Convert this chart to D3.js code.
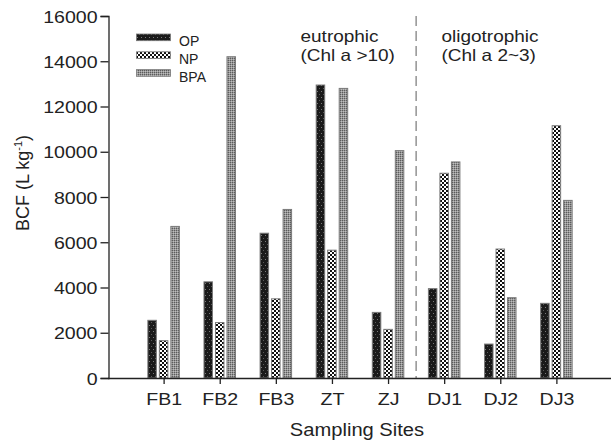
<!DOCTYPE html>
<html><head><meta charset="utf-8">
<script src="https://cdn.jsdelivr.net/npm/d3@7"></script>
<style>body{margin:0;background:#fff;} svg{display:block;font-family:"Liberation Sans",Arial,sans-serif;}</style>
</head><body>
<svg id="c" width="611" height="440"></svg>
<script>
const sites = ["FB1","FB2","FB3","ZT","ZJ","DJ1","DJ2","DJ3"];
const seriesNames = ["OP","NP","BPA"];
const OP  = [2550, 4250, 6400, 12950, 2900, 3950, 1500, 3300];
const NP  = [1650, 2450, 3500, 5650, 2150, 9050, 5700, 11150];
const BPA = [6700, 14200, 7450, 12800, 10050, 9550, 3550, 7850];
const yTicks = [0,2000,4000,6000,8000,10000,12000,14000,16000];
const seriesVals = [OP, NP, BPA];

const svg = d3.select("#c");
const defs = svg.append("defs");
let p = defs.append("pattern").attr("id","pOP").attr("patternUnits","userSpaceOnUse").attr("width",4).attr("height",6);
p.append("rect").attr("width",4).attr("height",6).attr("fill","#1a1a1a");
p.append("rect").attr("x",1).attr("y",1).attr("width",1).attr("height",1).attr("fill","#7a7a7a");
p.append("rect").attr("x",3).attr("y",4).attr("width",1).attr("height",1).attr("fill","#5a5a5a");
p = defs.append("pattern").attr("id","pNP").attr("patternUnits","userSpaceOnUse").attr("width",4).attr("height",4);
p.append("rect").attr("width",4).attr("height",4).attr("fill","#fff");
p.append("rect").attr("width",2).attr("height",2).attr("fill","#111");
p.append("rect").attr("x",2).attr("y",2).attr("width",2).attr("height",2).attr("fill","#111");
p = defs.append("pattern").attr("id","pBPA").attr("patternUnits","userSpaceOnUse").attr("width",2).attr("height",2);
p.append("rect").attr("width",2).attr("height",2).attr("fill","#969696");
p.append("rect").attr("width",1).attr("height",1).attr("fill","#5c5c5c");
p.append("rect").attr("x",1).attr("y",1).attr("width",1).attr("height",1).attr("fill","#bdbdbd");
const fills = ["url(#pOP)","url(#pNP)","url(#pBPA)"];

const x = d3.scaleLinear().domain([0, 9]).range([107.5, 612.5]);
const y = d3.scaleLinear().domain([0, 16000]).range([378, 16]);
const barW = 8.5, step = 11.5;
const K = 1.15; // horizontal stretch of the reference's lettering
function stretch(sel){
  sel.each(function(){
    const L = this.getComputedTextLength();
    d3.select(this).attr("textLength", L*K).attr("lengthAdjust","spacingAndGlyphs");
  });
}

svg.append("line").attr("x1",x(5.5)).attr("x2",x(5.5)).attr("y1",y(16000)).attr("y2",y(0))
  .attr("stroke","#777").attr("stroke-width",1.2).attr("stroke-dasharray","10,5");

seriesVals.forEach((vals,si)=>{
  svg.append("g").selectAll("rect").data(vals).join("rect")
    .attr("x",(d,i)=>x(i+1)+(si-1)*step-barW/2)
    .attr("y",d=>y(d))
    .attr("width",barW)
    .attr("height",d=>y(0)-y(d))
    .attr("fill",fills[si])
    .attr("stroke","#7a7a7a").attr("stroke-width",1);
});

const yAxis = d3.axisLeft(y).tickValues(yTicks).tickSize(8).tickPadding(3).tickFormat(d3.format("d"));
const gy = svg.append("g").attr("transform","translate(108.5,0)").call(yAxis);
gy.select(".domain").attr("stroke","#222").attr("stroke-width",1.3);
gy.selectAll(".tick line").attr("stroke","#222").attr("stroke-width",1.3);
gy.selectAll("text").attr("font-size",17).attr("fill","#222").attr("font-family","Liberation Sans, Arial, sans-serif").attr("dy","0.36em");
stretch(gy.selectAll("text"));

const xAxis = d3.axisBottom(x).tickValues(d3.range(1,9)).tickFormat(d=>sites[d-1]).tickSize(6).tickPadding(9).tickSizeOuter(0);
const gx = svg.append("g").attr("transform","translate(0,378)").call(xAxis);
gx.select(".domain").attr("stroke","#222").attr("stroke-width",1.3);
gx.selectAll(".tick line").attr("stroke","#222").attr("stroke-width",1.3);
gx.selectAll("text").attr("font-size",17).attr("fill","#222").attr("font-family","Liberation Sans, Arial, sans-serif");
stretch(gx.selectAll("text"));

const xt = svg.append("text").attr("x",357).attr("y",436).attr("text-anchor","middle").attr("font-size",17.5).attr("fill","#222").text("Sampling Sites");
stretch(xt);
const yt = svg.append("text").attr("transform","translate(29,183) rotate(-90)").attr("text-anchor","middle").attr("font-size",18).attr("fill","#222");
yt.append("tspan").text("BCF (L kg");
yt.append("tspan").attr("font-size",11).attr("dy",-7).text("-1");
yt.append("tspan").attr("dy",7).text(")");

const ann = [["eutrophic",300.5,42],["(Chl a >10)",300.5,61],["oligotrophic",441.5,42],["(Chl a 2~3)",441.5,61]];
const at = svg.append("g").selectAll("text").data(ann).join("text")
  .attr("x",d=>d[1]).attr("y",d=>d[2]).attr("font-size",16.5).attr("fill","#222").text(d=>d[0]);
stretch(at);

const lg = svg.append("g");
seriesNames.forEach((n,i)=>{
  const yy = 34 + i*17.8;
  lg.append("rect").attr("x",136.5).attr("y",yy).attr("width",34).attr("height",6.7).attr("fill",fills[i]).attr("stroke","#7a7a7a").attr("stroke-width",0.8);
  lg.append("text").attr("x",179).attr("y",yy+12).attr("font-size",14).attr("fill","#222").text(n);
});
</script>
</body></html>
